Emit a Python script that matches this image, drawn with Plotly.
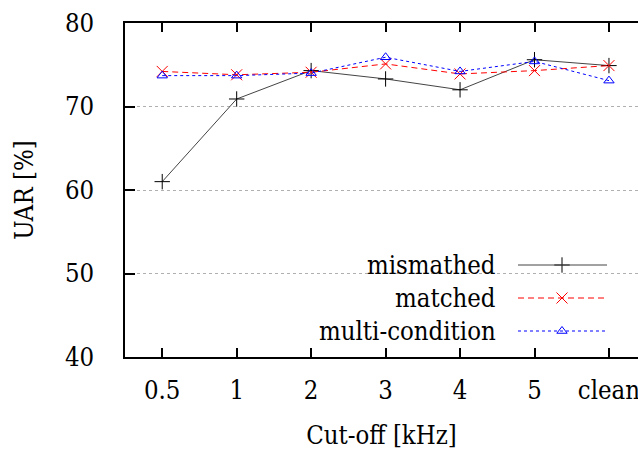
import plotly.graph_objects as go

categories = ["0.5", "1", "2", "3", "4", "5", "clean"]
mismatched = [61.0, 70.9, 74.3, 73.3, 72.0, 75.6, 74.9]
matched = [74.2, 73.8, 74.1, 75.1, 73.9, 74.3, 74.9]
multi_condition = [73.7, 73.7, 74.0, 75.9, 74.2, 75.4, 73.1]
series_names = ["mismathed", "matched", "multi-condition"]
y_ticks = [40, 50, 60, 70, 80]

FONT = "DejaVu Serif Condensed, DejaVu Serif"
FS = 25.5

styles = [
    dict(color="#444444", dash="solid", symbol="cross-thin-open", msize=11, mcolor="#000000"),
    dict(color="#ff0000", dash="6px,4px", symbol="x-thin-open", msize=11, mcolor="#ff0000"),
    dict(color="#0000ff", dash="3px,3px", symbol="triangle-up-open", msize=9, mcolor="#0000ff"),
]

fig = go.Figure()
for vals, st in zip([mismatched, matched, multi_condition], styles):
    fig.add_trace(go.Scatter(
        x=categories, y=vals, mode="lines+markers",
        line=dict(color=st["color"], width=1, dash=st["dash"]),
        marker=dict(symbol=st["symbol"], size=st["msize"],
                    line=dict(color=st["mcolor"], width=1), color=st["mcolor"]),
        showlegend=False, hoverinfo="skip",
    ))

L = 125.0; R = 638.0; T = 23.0; B = 357.0
def px(x):
    return (x - L) / (R - L)
def py(y):
    return (B - y) / (B - T)

rows_y = [265, 298, 331]
fig.add_shape(type="rect", xref="paper", yref="paper",
              x0=px(201), x1=px(624), y0=py(250), y1=py(347),
              fillcolor="white", line=dict(width=0), layer="between")
for name, st, ry in zip(series_names, styles, rows_y):
    fig.add_annotation(text=name, xref="paper", yref="paper", x=px(498), y=py(ry),
                       xanchor="right", yanchor="middle", showarrow=False,
                       font=dict(family=FONT, size=FS, color="black"))
    fig.add_shape(type="line", xref="paper", yref="paper",
                  x0=px(518), x1=px(607), y0=py(ry), y1=py(ry),
                  line=dict(color=st["color"], width=1, dash=st["dash"]))
    fig.add_trace(go.Scatter(
        x=[px(562)], y=[py(ry)], xaxis="x2", yaxis="y2", mode="markers",
        marker=dict(symbol=st["symbol"], size=st["msize"],
                    line=dict(color=st["mcolor"], width=1), color=st["mcolor"]),
        showlegend=False, hoverinfo="skip",
    ))

fig.update_layout(
    width=638, height=453,
    margin=dict(l=int(L), r=0, t=int(T), b=int(453 - B), autoexpand=False),
    paper_bgcolor="white", plot_bgcolor="white",
    font=dict(family=FONT, size=FS, color="black"),
    showlegend=False,
    xaxis=dict(
        type="category", categoryorder="array", categoryarray=categories,
        range=[-0.5, 6.39], showgrid=False, zeroline=False, automargin=False,
        showline=True, linecolor="black", linewidth=1.5, mirror="allticks",
        ticks="inside", ticklen=9, tickcolor="black", tickwidth=1.5,
        ticklabelstandoff=10,
        tickfont=dict(family=FONT, size=FS),
        title=dict(text="Cut-off [kHz]", font=dict(family=FONT, size=FS), standoff=22),
    ),
    yaxis=dict(
        range=[40, 80], tickvals=y_ticks, showgrid=True, automargin=False,
        gridcolor="#b0b0b0", griddash="3px,3px", gridwidth=1, zeroline=False,
        showline=True, linecolor="black", linewidth=1.5,
        ticks="inside", ticklen=10, tickcolor="black", tickwidth=1.5,
        ticklabelstandoff=24,
        tickfont=dict(family=FONT, size=FS),
        title=dict(text="UAR [%]", font=dict(family=FONT, size=FS), standoff=24),
    ),
    xaxis2=dict(domain=[0, 1], range=[0, 1], visible=False, overlaying="x", anchor="y2"),
    yaxis2=dict(domain=[0, 1], range=[0, 1], visible=False, overlaying="y", anchor="x2"),
)

fig.write_html("out.html", config={"displayModeBar": False},
               post_script="document.body.style.margin='0';document.body.style.overflow='hidden';")
